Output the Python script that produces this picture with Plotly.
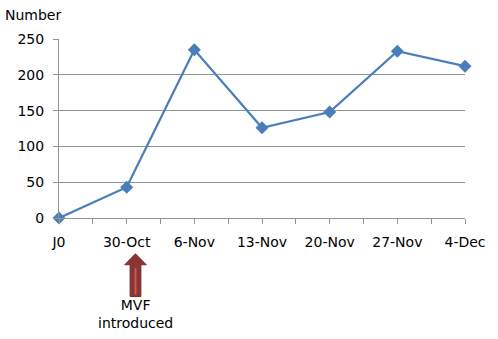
import plotly.graph_objects as go

categories = ["J0", "30-Oct", "6-Nov", "13-Nov", "20-Nov", "27-Nov", "4-Dec"]
values = [0, 43, 235, 126, 148, 233, 212]
y_ticks = [0, 50, 100, 150, 200, 250]

xs = list(range(len(categories)))
FONT = "DejaVu Sans, Verdana, sans-serif"

fig = go.Figure()
fig.add_trace(go.Scatter(
    x=xs, y=values, mode="lines+markers",
    line=dict(color="#4a7ebb", width=2.25),
    marker=dict(symbol="diamond", size=10, color="#4a7ebb"),
    cliponaxis=False, showlegend=False,
))

# arrow (pixel-ish scale: 1 x-unit = 69 px, 1 paper unit = 180 px)
ux = 1 / 69.0
uy = 1 / 180.0
cx = 1 + 9 * ux
def py(pix):
    return (218 - pix) * uy
hw, sw = 11 * ux, 5.5 * ux
path = (f"M {cx},{py(254)} L {cx+hw},{py(265)} L {cx+sw},{py(265)} L {cx+sw},{py(297)} "
        f"L {cx-sw},{py(297)} L {cx-sw},{py(265)} L {cx-hw},{py(265)} Z")
fig.add_shape(type="path", path=path, xref="x", yref="paper",
              fillcolor="#8c3434", line=dict(color="#7a2a2a", width=1))
fig.add_shape(type="line", xref="x", yref="paper",
              x0=cx, x1=cx, y0=py(268), y1=py(295),
              line=dict(color="#c25a5a", width=2))

fig.add_annotation(x=cx, y=py(315), xref="x", yref="paper",
                   text="MVF<br>introduced", showarrow=False,
                   font=dict(family=FONT, size=14, color="#000000"),
                   xanchor="center", yanchor="middle", align="center")
fig.add_annotation(x=0, y=1, xref="paper", yref="paper",
                   text="Number", showarrow=False,
                   xshift=-56, yshift=14,
                   font=dict(family=FONT, size=14, color="#000000"),
                   xanchor="left", yanchor="bottom")

fig.update_layout(
    width=498, height=339,
    margin=dict(l=59, r=25, t=39, b=121),
    paper_bgcolor="white", plot_bgcolor="white",
    font=dict(family=FONT, size=14, color="#000000"),
    xaxis=dict(
        range=[0, len(categories) - 1],
        tickmode="array", tickvals=xs, ticktext=categories,
        showgrid=False, zeroline=False,
        showline=True, linecolor="#949494", linewidth=1,
        ticks="outside", ticklen=5, tickcolor="#949494",
        minor=dict(ticks="outside", dtick=0.5, tick0=0, ticklen=5, tickcolor="#949494"),
        tickfont=dict(family=FONT, size=14),
        ticklabelstandoff=6,
    ),
    yaxis=dict(
        range=[0, 250], tickmode="array", tickvals=y_ticks,
        showgrid=True, gridcolor="#949494", gridwidth=1,
        zeroline=False,
        showline=True, linecolor="#949494", linewidth=1,
        ticks="outside", ticklen=5, tickcolor="#949494",
        tickfont=dict(family=FONT, size=14),
        ticklabelstandoff=6,
    ),
)

fig.write_html("out.html", config={"displayModeBar": False},
               post_script="document.body.style.margin='0';")
